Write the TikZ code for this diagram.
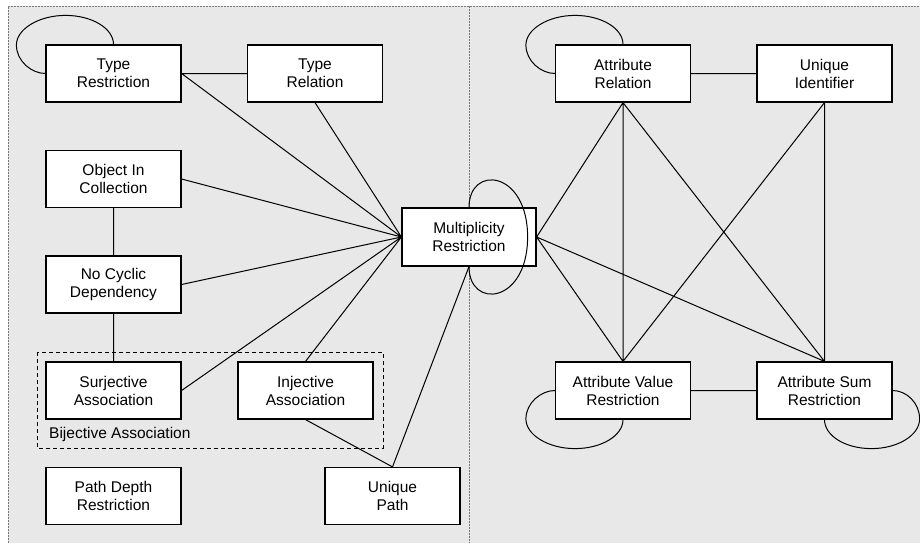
\documentclass[tikz,border=0pt]{standalone}
\usepackage{fontspec}
\setmainfont{Liberation Sans}
\begin{document}
\begin{tikzpicture}[x=1pt,y=-1pt,
  panel/.style={draw=bordergray,line width=0.7pt,dash pattern=on 0.6pt off 0.9pt},
  box/.style={draw=black,fill=white,line width=1.2pt,minimum width=135pt,minimum height=57pt,
    inner sep=0pt,align=center,font=\fontsize{15.5}{18}\selectfont},
  link/.style={draw=black,line width=1pt},
  group/.style={draw=black,line width=0.9pt,dash pattern=on 4pt off 3pt}]
\definecolor{panelgray}{RGB}{232,232,232}
\definecolor{bordergray}{RGB}{120,120,120}
\useasboundingbox (0,0) rectangle (920,543);
% two shaded panels
\fill[panelgray] (8,6) rectangle (920,543);
\draw[panel] (8,543) -- (8,6) -- (920,6);
\draw[panel] (469,6) -- (469,543);
% grouping frame
\draw[group] (37,352) rectangle (383,448);
\node[anchor=base west,inner sep=0pt,font=\fontsize{15.5}{18}\selectfont] (bij) at (49,438) {Bijective Association};
% nodes
\node[box] (tr)  at (113.5,73.5) {Type\\Restriction};
\node[box] (trel) at (315,73.5) {Type\\Relation};
\node[box] (oic) at (113.5,179) {Object In\\Collection};
\node[box] (ncd) at (113.5,284.5) {No Cyclic\\Dependency};
\node[box] (sa)  at (113.5,390.5) {Surjective\\Association};
\node[box] (ia)  at (305.5,390.5) {Injective\\Association};
\node[box] (pdr) at (113.5,496) {Path Depth\\Restriction};
\node[box] (up)  at (392.5,496) {Unique\\Path};
\node[box,minimum width=134pt,minimum height=58pt] (mr) at (469,237) {Multiplicity\\Restriction};
\node[box] (ar)  at (623,73.5) {Attribute\\Relation};
\node[box] (ui)  at (824.5,73.5) {Unique\\Identifier};
\node[box] (avr) at (623,390.5) {Attribute Value\\Restriction};
\node[box] (asr) at (824.5,390.5) {Attribute Sum\\Restriction};
% connectors
\path[link] (tr.east) -- (trel.west)
  (tr.east) -- (mr.west)
  (trel.south) -- (mr.west)
  (oic.east) -- (mr.west)
  (ncd.east) -- (mr.west)
  (sa.east) -- (mr.west)
  (ia.north) -- (mr.west)
  (oic.south) -- (ncd.north)
  (ncd.south) -- (sa.north)
  (ia.south) -- (up.north)
  (up.north) -- (mr.south)
  (mr.east) -- (ar.south)
  (mr.east) -- (avr.north)
  (mr.east) -- (asr.north)
  (ar.east) -- (ui.west)
  (ar.south) -- (avr.north)
  (ar.south) -- (asr.north)
  (ui.south) -- (avr.north)
  (ui.south) -- (asr.north)
  (avr.east) -- (asr.west);
% self loops
\draw[link] (tr.west) .. controls +(-14,0) and +(0,16) .. ([shift={(-29,-28.5)}]tr.west)
  .. controls +(0,-16) and +(-26.5,0) .. ([shift={(-48,-29)}]tr.north)
  .. controls +(26.5,0) and +(0,-16) .. (tr.north);
\draw[link] (ar.west) .. controls +(-14,0) and +(0,16) .. ([shift={(-29,-28.5)}]ar.west)
  .. controls +(0,-16) and +(-26.5,0) .. ([shift={(-48,-29)}]ar.north)
  .. controls +(26.5,0) and +(0,-16) .. (ar.north);
\draw[link] (avr.west) .. controls +(-14,0) and +(0,-16) .. ([shift={(-29,28.5)}]avr.west)
  .. controls +(0,16) and +(-26.5,0) .. ([shift={(-48,29)}]avr.south)
  .. controls +(26.5,0) and +(0,16) .. (avr.south);
\draw[link] (asr.east) .. controls +(14,0) and +(0,-16) .. ([shift={(27,28.5)}]asr.east)
  .. controls +(0,16) and +(26.5,0) .. ([shift={(47,29)}]asr.south)
  .. controls +(-26.5,0) and +(0,16) .. (asr.south);
\draw[link] (mr.north) .. controls +(0,-43) and +(0,-67) .. ([xshift=-9pt]mr.east)
  .. controls +(0,67) and +(0,43) .. (mr.south);
\end{tikzpicture}
\end{document}
